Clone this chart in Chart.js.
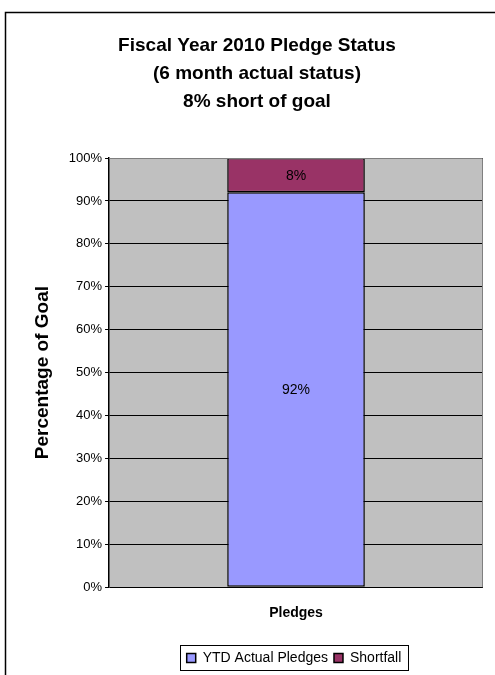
<!DOCTYPE html>
<html>
<head>
<meta charset="utf-8">
<script src="https://cdn.jsdelivr.net/npm/chart.js@4"></script>
<style>
  body { margin: 0; background: #fff; }
  #wrap { position: absolute; left: 0; top: 0; width: 495px; height: 675px; }
</style>
</head>
<body>
<div id="wrap"><canvas id="myChart" width="495" height="675"></canvas></div>
<script>
"use strict"
// data
const categories = ["Pledges"];
const seriesNames = ["YTD Actual Pledges", "Shortfall"];
const ytdActual = [92];
const shortfall = [8];
const yTicks = [0, 10, 20, 30, 40, 50, 60, 70, 80, 90, 100];

const fontName = "'Liberation Sans', Arial, sans-serif";

// outer frame of the sheet (left + top + right, cut off at bottom)
const framePlugin = {
    id: "frame",
    afterLayout(chart) {
        // Excel centres the legend under the plot area, not the whole chart
        const lg = chart.legend;
        const a = chart.chartArea;
        if (lg) {
            const dx = (a.left + a.right) / 2 - (lg.left + lg.right) / 2 - 2;
            lg.left += dx;
            lg.right += dx;
        }
    },
    beforeDraw(chart) {
        const c = chart.ctx;
        const a = chart.chartArea;
        c.save();
        c.fillStyle = "#fff";
        c.fillRect(0, 0, chart.width, chart.height);
        c.strokeStyle = "#000";
        c.lineWidth = 1.5;
        c.beginPath();
        c.moveTo(5.5, chart.height);
        c.lineTo(5.5, 12.5);
        c.lineTo(chart.width, 12.5);
        c.stroke();
        // grey plot area
        c.fillStyle = "#C0C0C0";
        c.fillRect(a.left, a.top, a.right - a.left, a.bottom - a.top);
        c.restore();
    },
    afterDraw(chart) {
        const c = chart.ctx;
        const a = chart.chartArea;
        c.save();
        // plot area edge
        c.strokeStyle = "#808080";
        c.lineWidth = 1;
        c.beginPath();
        c.moveTo(a.left, a.top + 0.5);
        c.lineTo(a.right - 0.5, a.top + 0.5);
        c.lineTo(a.right - 0.5, a.bottom);
        c.stroke();
        // box round the legend
        const lg = chart.legend;
        if (lg && lg.legendHitBoxes.length) {
            const hb = lg.legendHitBoxes;
            const x0 = hb[0].left - 7;
            const last = hb[hb.length - 1];
            const x1 = last.left + last.width + 6;
            const y0 = hb[0].top - 6;
            const y1 = hb[0].top + hb[0].height + 5;
            c.strokeStyle = "#000";
            c.lineWidth = 1;
            c.strokeRect(Math.round(x0) + 0.5, Math.round(y0) + 0.5, Math.round(x1 - x0), Math.round(y1 - y0));
        }
        c.restore();
    }
};

// value labels in the middle of each segment
const valueLabels = {
    id: "valueLabels",
    afterDatasetsDraw(chart) {
        const c = chart.ctx;
        c.save();
        c.font = "14px " + fontName;
        c.fillStyle = "#000";
        c.textAlign = "center";
        c.textBaseline = "middle";
        chart.data.datasets.forEach(function (ds, i) {
            chart.getDatasetMeta(i).data.forEach(function (bar, j) {
                const mid = (bar.y + bar.base) / 2;
                c.fillText(ds.data[j] + "%", bar.x, mid + 1);
            });
        });
        c.restore();
    }
};

const ctx = document.getElementById("myChart").getContext("2d");

const config = {
    type: "bar",
    data: {
        labels: categories,
        datasets: [{
            label: seriesNames[0],
            data: ytdActual,
            backgroundColor: "#9999FF",
            borderColor: "#000",
            borderWidth: 1.5,
            borderSkipped: false,
            categoryPercentage: 0.368,
            barPercentage: 1
        }, {
            label: seriesNames[1],
            data: shortfall,
            backgroundColor: "#993366",
            borderColor: "#000",
            borderWidth: 1.5,
            borderSkipped: false,
            categoryPercentage: 0.368,
            barPercentage: 1
        }]
    },
    options: {
        responsive: false,
        animation: false,
        devicePixelRatio: 1,
        layout: { padding: { left: 31, right: 12, top: 32, bottom: 0 } },
        plugins: {
            title: {
                display: true,
                text: ["Fiscal Year 2010 Pledge Status", "(6 month actual status)", "8% short of goal"],
                color: "#000",
                font: { family: fontName, size: 19, weight: "bold", lineHeight: 1.474 },
                padding: { top: 0, bottom: 42 }
            },
            legend: {
                position: "bottom",
                labels: {
                    color: "#000",
                    font: { family: fontName, size: 14 },
                    boxWidth: 9,
                    boxHeight: 9,
                    padding: 6,
                    generateLabels(chart) {
                        return chart.data.datasets.map(function (ds, i) {
                            return {
                                text: ds.label,
                                fillStyle: ds.backgroundColor,
                                strokeStyle: "#000",
                                lineWidth: 1.5,
                                datasetIndex: i
                            };
                        });
                    }
                }
            },
            tooltip: { enabled: false }
        },
        scales: {
            x: {
                stacked: true,
                grid: { display: false },
                border: { display: false },
                afterFit(axis) {
                    axis.height += 13;
                },
                ticks: {
                    color: "#000",
                    font: { family: fontName, size: 14, weight: "bold" },
                    padding: 10
                }
            },
            y: {
                stacked: true,
                min: 0,
                max: 100,
                afterBuildTicks(axis) {
                    axis.ticks = yTicks.map(function (v) { return { value: v }; });
                },
                ticks: {
                    color: "#000",
                    font: { family: fontName, size: 13 },
                    padding: 3,
                    callback: function (value) {
                        return value + "%";
                    }
                },
                grid: {
                    color: "#000",
                    lineWidth: 1,
                    tickLength: 4,
                    drawTicks: true
                },
                border: { display: true, color: "#000", width: 1.5 },
                title: {
                    display: true,
                    text: "Percentage of Goal",
                    color: "#000",
                    font: { family: fontName, size: 19, weight: "bold" },
                    padding: { top: 0, bottom: 12 }
                }
            }
        }
    },
    plugins: [framePlugin, valueLabels]
};

const myChart = new Chart(ctx, config);
</script>
</body>
</html>
